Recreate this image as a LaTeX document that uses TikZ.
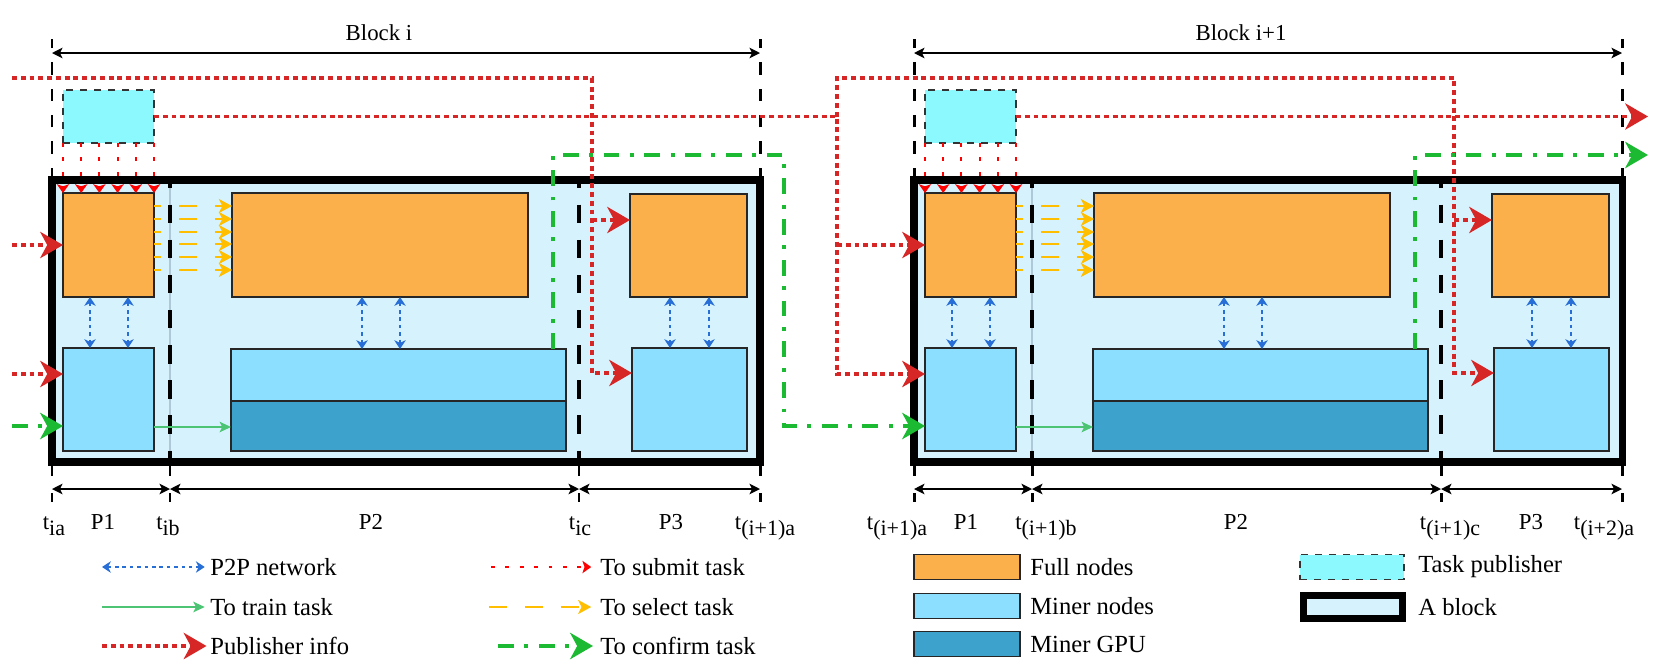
\documentclass[tikz,border=0pt]{standalone}
\usepackage{fontspec}
\setmainfont{Liberation Serif}
\usetikzlibrary{arrows.meta,calc}
\definecolor{fullc}{RGB}{251,176,76}
\definecolor{minerc}{RGB}{140,223,255}
\definecolor{gpuc}{RGB}{61,162,204}
\definecolor{pubc}{RGB}{140,249,255}
\definecolor{blockc}{RGB}{214,243,253}
\definecolor{boxline}{RGB}{38,38,38}
\definecolor{redA}{RGB}{214,38,38}
\definecolor{redB}{RGB}{255,0,0}
\definecolor{greenA}{RGB}{28,186,50}
\definecolor{greenB}{RGB}{76,196,115}
\definecolor{blueA}{RGB}{40,110,215}
\definecolor{yellowA}{RGB}{255,190,0}
\definecolor{thinline}{RGB}{175,200,215}
\tikzset{
 bigT/.tip={Stealth[length=13pt,width=15pt,inset=4pt]},
 subT/.tip={Stealth[length=5pt,width=7pt,inset=1.2pt]},
 selT/.tip={Stealth[length=7.5pt,width=8pt,inset=2pt]},
 pT/.tip={Stealth[length=5pt,width=6.5pt,inset=1.5pt]},
 trT/.tip={Stealth[length=6.5pt,width=6pt,inset=1.5pt]},
 spT/.tip={Stealth[length=6pt,width=6pt,inset=1.5pt]},
 nodebox/.style={draw=boxline, line width=0.85pt, inner sep=0pt, outer sep=0pt, anchor=north west},
 fullbox/.style={nodebox, fill=fullc},
 minerbox/.style={nodebox, fill=minerc},
 gpubox/.style={nodebox, fill=gpuc},
 pubbox/.style={nodebox, fill=pubc, draw=black!80, dash pattern=on 4pt off 4pt},
 blockbox/.style={draw=black, line width=4pt, fill=blockc, inner sep=0pt, outer sep=0pt, anchor=north west},
 pubinfo/.style={draw=redA, line width=1.8pt, dash pattern=on 2.8pt off 2.2pt, -bigT},
 confirm/.style={draw=greenA, line width=2.2pt, dash pattern=on 9pt off 6pt on 2.2pt off 6pt, -bigT},
 submit/.style={draw=redB, line width=1.1pt, dash pattern=on 2.2pt off 6pt, -subT},
 selectarr/.style={draw=yellowA, line width=0.9pt, dash pattern=on 10.2pt off 10.2pt, dash phase=6.2pt, -selT},
 p2p/.style={draw=blueA, line width=0.8pt, dash pattern=on 2pt off 2.2pt, pT-pT},
 train/.style={draw=greenB, line width=0.9pt, -trT},
 phaseln/.style={draw=black, line width=2.3pt, dash pattern=on 10.5pt off 9.5pt, dash phase=6pt},
 topdash/.style={draw=black, line width=1.7pt, dash pattern=on 7pt off 8pt},
 tickln/.style={draw=black, line width=1.7pt},
 spanarr/.style={draw=black, line width=0.9pt, spT-spT},
 lab/.style={inner sep=0pt, font=\rmfamily\fontsize{13}{15}\selectfont, anchor=base},
 legtext/.style={inner sep=0pt, font=\rmfamily\fontsize{14}{16}\selectfont, anchor=west},
 sepline/.style={draw=thinline, line width=0.6pt},
}
\newcommand\tlab[1]{t\raisebox{-3.6pt}{\fontsize{12.5}{13}\selectfont #1}}
\newcommand\drawbx[6]{\node[#1, minimum width=#4*0.02cm, minimum height=#5*0.02cm] (#6) at (#2,#3) {};}
\newcommand\myblock[2]{%
\begin{scope}[shift={(#2,0)}]
 \drawbx{blockbox}{52}{180}{708}{282}{#1blk}
 \draw[sepline] (170,183) -- (170,459);
 \draw[phaseln] (170,180) -- (170,462);
 \draw[phaseln] (579,180) -- (579,462);
 \drawbx{pubbox}{63}{90}{91}{53}{#1pub}
 \drawbx{fullbox}{63}{193}{91}{104}{#1fa}
 \drawbx{fullbox}{232}{193}{296}{104}{#1fb}
 \drawbx{fullbox}{630}{194}{117}{103}{#1fc}
 \drawbx{minerbox}{63}{348}{91}{103}{#1ma}
 \drawbx{minerbox}{231}{349}{335}{52}{#1mb}
 \drawbx{gpubox}{231}{401}{335}{50}{#1gb}
 \drawbx{minerbox}{632}{348}{115}{103}{#1mc}
 \foreach \k in {0,...,5}
   \draw[submit] ($(#1pub.south west)!\k/5!(#1pub.south east)$) -- ($(#1fa.north west)!\k/5!(#1fa.north east)$);
 \foreach \d in {13,26,39,51,64,77}
   \draw[selectarr] ($(#1fa.north east)+(0,\d)$) -- ($(#1fb.north west)+(0,\d)$);
 \draw[p2p] ($(#1fa.south west)+(27,0)$) -- ($(#1ma.north west)+(27,0)$);
 \draw[p2p] ($(#1fa.south west)+(65,0)$) -- ($(#1ma.north west)+(65,0)$);
 \draw[p2p] ($(#1fb.south west)+(130,0)$) -- ($(#1mb.north west)+(131,0)$);
 \draw[p2p] ($(#1fb.south west)+(168,0)$) -- ($(#1mb.north west)+(169,0)$);
 \draw[p2p] ($(#1fc.south west)+(40,0)$) -- ($(#1mc.north west)+(38,0)$);
 \draw[p2p] ($(#1fc.south west)+(79,0)$) -- ($(#1mc.north west)+(77,0)$);
 \draw[train] ($(#1ma.north east)+(0,79)$) -- ($(#1gb.north west)+(0,26)$);
 \draw[topdash] (#1blk.north west) -- ++(0,-141);
 \draw[topdash] (#1blk.north east) -- ++(0,-141);
 \draw[spanarr] ($(#1blk.north west)+(0,-127)$) -- ($(#1blk.north east)+(0,-127)$);
 \foreach \x in {52,170,579,760} {
   \draw[tickln] (\x,462) -- (\x,476);
   \draw[tickln] (\x,493) -- (\x,502);
 }
 \draw[spanarr] (52,489) -- (170,489);
 \draw[spanarr] (170,489) -- (579,489);
 \draw[spanarr] (579,489) -- (760,489);
\end{scope}}

\begin{document}
\begin{tikzpicture}[x=0.02cm,y=-0.02cm]
\useasboundingbox (0,0) rectangle (1661,670);
\myblock{a}{0}
\myblock{b}{862}
% block titles
\node[lab] (bi) at (379,40) {Block i};
\node[lab] (bj) at (1241,40) {Block i+1};
% inputs from the left
\coordinate (inA) at (12,245);
\coordinate (inB) at (12,374);
\coordinate (inC) at (12,426);
\draw[pubinfo] (inA) -- (inA -| afa.west);
\draw[pubinfo] (inB) -- (inB -| ama.west);
\draw[confirm] (inC) -- (inC -| ama.west);
% top red line into P3 of block i
\coordinate (topA) at (12,78);
\coordinate (xA) at (592,373);
\coordinate (yA) at (592,220);
\draw[pubinfo] (topA) -| (xA) -- (xA -| amc.west);
\draw[pubinfo] (yA) -- (yA -| afc.west);
% publisher of block i to block i+1
\coordinate (xB) at (837,374);
\coordinate (yB) at (837,245);
\draw[pubinfo] (apub.east) -| (xB) -- (xB -| bma.west);
\draw[pubinfo] (yB) -- (yB -| bfa.west);
% top red line into P3 of block i+1
\coordinate (jB) at (837,116.5);
\coordinate (cC) at (1454,78);
\coordinate (xC) at (1454,373);
\coordinate (yC) at (1454,220);
\draw[pubinfo] (jB) |- (cC) -- (xC) -- (xC -| bmc.west);
\draw[pubinfo] (yC) -- (yC -| bfc.west);
% publisher of block i+1 out
\coordinate (outD) at (1648,116.5);
\draw[pubinfo] (bpub.east) -- (outD);
% confirm lines
\coordinate (gE1) at ($(amb.north east)+(-13,0)$);
\coordinate (gE2) at (784,155);
\coordinate (gE3) at (784,426);
\draw[confirm] (gE1) |- (gE2) -- (gE3) -- (gE3 -| bma.west);
\coordinate (gF1) at ($(bmb.north east)+(-13,0)$);
\coordinate (gF2) at (1648,155);
\draw[confirm] (gF1) |- (gF2);
% time labels
\node[lab] (l1) at (54,529) {\tlab{ia}};
\node[lab] (l2) at (103,529) {P1};
\node[lab] (l3) at (168,529) {\tlab{ib}};
\node[lab] (l4) at (371,529) {P2};
\node[lab] (l5) at (580,529) {\tlab{ic}};
\node[lab] (l6) at (671,529) {P3};
\node[lab] (l7) at (765,529) {\tlab{(i+1)a}};
\node[lab] (m1) at (897,529) {\tlab{(i+1)a}};
\node[lab] (m2) at (966,529) {P1};
\node[lab] (m3) at (1046,529) {\tlab{(i+1)b}};
\node[lab] (m4) at (1236,529) {P2};
\node[lab] (m5) at (1450,529) {\tlab{(i+1)c}};
\node[lab] (m6) at (1531,529) {P3};
\node[lab] (m7) at (1604,529) {\tlab{(i+2)a}};
% legend column 1
\node[legtext] (t1) at (210,567) {P2P network};
\node[legtext] (t2) at (210,607) {To train task};
\node[legtext] (t3) at (210,646) {Publisher info};
\coordinate (s1) at (102,567);
\coordinate (s2) at (102,607);
\coordinate (s3) at (102,646);
\draw[p2p, shorten >=3pt] (s1) -- (t1.west);
\draw[train, shorten >=3pt] (s2) -- (t2.west);
\draw[pubinfo, shorten >=2pt] (s3) -- (t3.west);
% legend column 2
\node[legtext] (t4) at (600,567) {To submit task};
\node[legtext] (t5) at (600,607) {To select task};
\node[legtext] (t6) at (600,646) {To confirm task};
\coordinate (s4) at (491,567);
\coordinate (s5) at (489,607);
\coordinate (s6) at (498,646);
\draw[submit, shorten >=5pt] (s4) -- (t4.west);
\draw[selectarr, dash phase=0pt, shorten >=5pt] (s5) -- (t5.west);
\draw[confirm, shorten >=4pt] (s6) -- (t6.west);
% legend column 3
\node[fullbox, anchor=west, minimum width=2.12cm, minimum height=0.5cm] (k1) at (914,567) {};
\node[minerbox, anchor=west, minimum width=2.12cm, minimum height=0.5cm] (k2) at (914,606) {};
\node[gpubox, anchor=west, minimum width=2.12cm, minimum height=0.5cm] (k3) at (914,644) {};
\node[legtext] (t7) at (1030,567) {Full nodes};
\node[legtext] (t8) at (1030,606) {Miner nodes};
\node[legtext] (t9) at (1030,644) {Miner GPU};
% legend column 4
\node[pubbox, anchor=west, minimum width=2.08cm, minimum height=0.5cm] (k4) at (1300,567) {};
\node[blockbox, anchor=west, minimum width=1.98cm, minimum height=0.46cm] (k5) at (1303.5,607) {};
\node[legtext] (t10) at (1418,567) {Task publisher};
\node[legtext] (t11) at (1418,607) {A block};
\end{tikzpicture}
\end{document}
